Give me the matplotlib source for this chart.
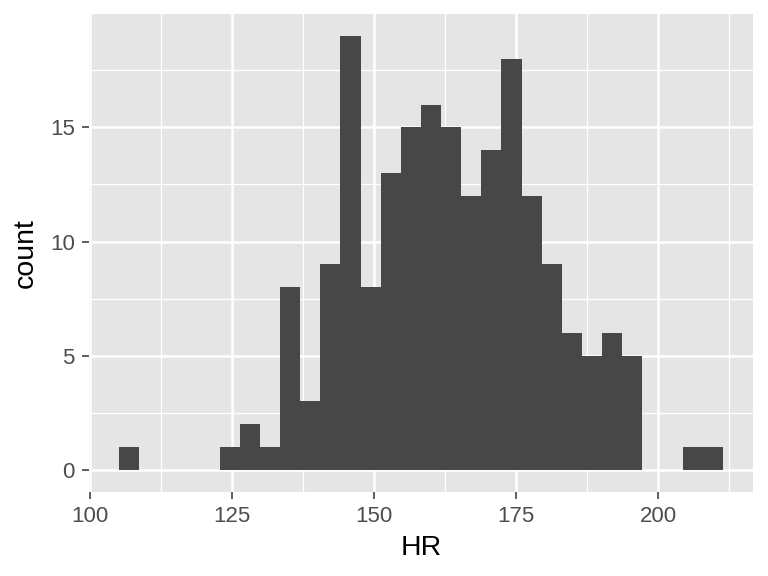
import numpy as np
import matplotlib
matplotlib.use("Agg")
from matplotlib import pyplot as plt

# histogram of HR, 30 bins
bin_start = 105.05
bin_width = 3.546
counts = [1, 0, 0, 0, 0, 1, 2, 1, 8, 3,
          9, 19, 8, 13, 15, 16, 15, 12, 14, 18,
          12, 9, 6, 5, 6, 5, 0, 0, 1, 1]
x_ticks = [100, 125, 150, 175, 200]
y_ticks = [0, 5, 10, 15]

edges = bin_start + bin_width * np.arange(len(counts) + 1)
lefts = edges[:-1]

plt.rcParams['font.family'] = ['Liberation Sans', 'DejaVu Sans']

fig = plt.figure(figsize=(7.68, 5.76), dpi=100)
ax = fig.add_axes([0.1156, 0.1464, 0.9805 - 0.1156, 0.9752 - 0.1464])
ax.set_facecolor('#E5E5E5')

ax.bar(lefts, counts, width=bin_width, align='edge', color='#474747', linewidth=0, zorder=3)

# ggplot style expansion
span = edges[-1] - edges[0]
ax.set_xlim(edges[0] - 0.05 * span, edges[-1] + 0.05 * span)
ymax = max(counts)
ax.set_ylim(-0.05 * ymax, ymax * 1.05)

ax.set_xticks(x_ticks)
ax.set_yticks(y_ticks)
ax.set_xticks([112.5, 137.5, 162.5, 187.5, 212.5], minor=True)
ax.set_yticks([2.5, 7.5, 12.5, 17.5], minor=True)
ax.grid(which='major', color='white', linewidth=1.8, zorder=1)
ax.grid(which='minor', color='white', linewidth=0.9, zorder=1)
ax.set_axisbelow(True)

ax.tick_params(which='major', length=5, width=1.1, color='#333333',
               labelsize=16, labelcolor='#4D4D4D', pad=5)
ax.tick_params(which='minor', length=0)
for s in ax.spines.values():
    s.set_visible(False)

ax.set_xlabel('HR', fontsize=20.5, color='black', labelpad=6)
ax.set_ylabel('count', fontsize=20.5, color='black', labelpad=8)

fig.savefig('out.png', dpi=100, facecolor='white')
